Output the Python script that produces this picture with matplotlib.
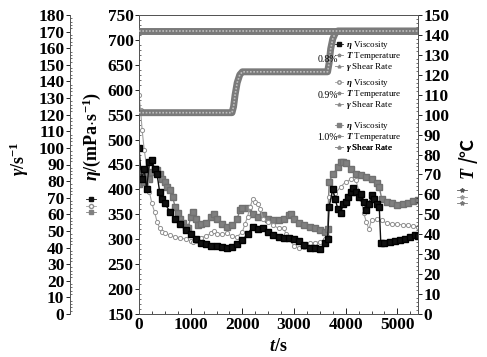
import matplotlib
matplotlib.use("Agg")
import matplotlib.pyplot as plt
from matplotlib.lines import Line2D
from matplotlib.ticker import MultipleLocator

plt.rcParams['font.family'] = ['Liberation Serif', 'DejaVu Serif']
plt.rcParams['mathtext.fontset'] = 'custom'
plt.rcParams['mathtext.rm'] = 'Liberation Serif:bold'
plt.rcParams['mathtext.it'] = 'Liberation Serif:italic:bold'
plt.rcParams['mathtext.bf'] = 'Liberation Serif:bold'

# ---------------- data ----------------
t_08 = [0, 50, 100, 150, 200, 250, 300, 350, 400, 450, 500, 600, 700, 800, 900, 1000,
        1100, 1200, 1300, 1400, 1500, 1600, 1700, 1800, 1900, 2000, 2100, 2200, 2300,
        2400, 2500, 2600, 2700, 2800, 2900, 3000, 3100, 3200, 3300, 3400, 3500, 3600,
        3650, 3680, 3750, 3800, 3850, 3900, 3950, 4000, 4050, 4100, 4150, 4200, 4250,
        4300, 4350, 4400, 4450, 4500, 4550, 4600, 4650, 4680, 4750, 4850, 4950, 5050,
        5150, 5250, 5350, 5400]
eta_08 = [483, 420, 440, 400, 455, 460, 440, 430, 395, 380, 372, 355, 340, 330, 318, 310,
          300, 292, 290, 287, 286, 284, 283, 285, 290, 298, 310, 325, 320,
          322, 315, 308, 305, 303, 302, 300, 296, 288, 283, 282, 280, 292,
          300, 365, 400, 380, 360, 352, 370, 375, 385, 395, 403, 395, 385,
          390, 375, 359, 370, 389, 380, 370, 365, 292, 293, 295, 296, 298,
          300, 305, 308, 307]

t_09 = [0, 30, 60, 100, 150, 200, 250, 300, 350, 400, 450, 500, 600, 700, 800, 900,
        1000, 1050, 1100, 1200, 1300, 1400, 1450, 1500, 1600, 1700, 1800, 1900, 2000,
        2050, 2100, 2150, 2200, 2250, 2300, 2350, 2400, 2500, 2600, 2700, 2800, 2850,
        2900, 3000, 3100, 3200, 3300, 3400, 3500, 3600, 3650, 3680, 3750, 3800, 3900,
        4000, 4100, 4200, 4300, 4350, 4400, 4450, 4500, 4600, 4700, 4800, 4900, 5000,
        5100, 5200, 5300, 5400]
eta_09 = [590, 560, 520, 480, 445, 395, 372, 355, 335, 322, 315, 312, 308, 305, 303, 300,
          297, 295, 297, 303, 307, 312, 316, 310, 310, 312, 306, 305, 315,
          330, 345, 365, 380, 375, 370, 360, 340, 335, 328, 322, 322, 310,
          300, 287, 282, 285, 292, 293, 295, 300, 305, 385, 390, 392, 405,
          415, 420, 418, 380, 352, 335, 320, 339, 340, 338, 332, 331, 330,
          329, 328, 326, 325]

t_10 = [0, 50, 100, 150, 200, 250, 300, 350, 400, 450, 500, 550, 600, 650, 700, 750,
        800, 850, 900, 950, 1000, 1050, 1100, 1150, 1200, 1300, 1400, 1450, 1500, 1600,
        1700, 1800, 1900, 1950, 2000, 2100, 2200, 2300, 2400, 2500, 2600, 2700, 2800,
        2900, 2950, 3000, 3100, 3200, 3300, 3400, 3500, 3600, 3650, 3680, 3750, 3850,
        3900, 3950, 4000, 4100, 4200, 4300, 4400, 4500, 4600, 4650, 4700, 4800, 4900,
        5000, 5100, 5200, 5300, 5400]
eta_10 = [410, 425, 415, 430, 420, 435, 440, 438, 430, 420, 415, 405, 398, 385, 365, 352,
          340, 333, 325, 322, 345, 355, 340, 328, 330, 333, 345, 350, 340, 330,
          325, 328, 340, 358, 362, 362, 350, 345, 348, 340, 338, 338, 340,
          349, 350, 340, 332, 328, 325, 322, 318, 315, 320, 415, 430, 445,
          456, 455, 453, 440, 430, 428, 425, 420, 412, 405, 380, 375, 372,
          369, 370, 372, 376, 378]

t_temp = [0, 1800, 1830, 1860, 1900, 1950, 2000, 3650, 3680, 3710, 3750, 3800, 3850, 5400]
temp = [101, 101, 104, 110, 116, 120, 121.5, 121.5, 126, 133, 138, 141, 142, 142]

t_shear = [0, 5400]
shear = [170.5, 170.5]

groups = ['0.8%', '0.9%', '1.0%']
row_labels = [r'$\eta$ Viscosity', r'$T$ Temperature', r'$\gamma$ Shear Rate']

# ---------------- figure ----------------
W, H = 487, 357
fig = plt.figure(figsize=(W / 100, H / 100), dpi=100)
L, R, B, T = 139, 418, 314, 15
ax = fig.add_axes([L / W, 1 - B / H, (R - L) / W, (B - T) / H])
ax.set_xlim(0, 5400)
ax.set_ylim(150, 750)
axT = ax.twinx()
axT.set_ylim(0, 150)
axG = ax.twinx()
axG.set_ylim(0, 180)
axG.spines['left'].set_position(('outward', (L - 70) * 0.72))
axG.spines['left'].set_visible(True)
axG.spines['right'].set_visible(False)
axG.yaxis.set_ticks_position('left')
axG.yaxis.set_label_position('left')
axG.patch.set_visible(False)

# data
axG.plot(t_shear, shear, color='#7a7a7a', lw=5, solid_capstyle='butt', zorder=2)
axG.plot(t_shear, shear, color='#bdbdbd', lw=1.2, ls=(0, (1, 1)), zorder=3)
axT.plot(t_temp, temp, color='#7a7a7a', lw=5, zorder=2)
axT.plot(t_temp, temp, color='#bdbdbd', lw=1.2, ls=(0, (1, 1)), zorder=3)

ax.plot(t_10, eta_10, color='#808080', lw=1.0, marker='s', ms=4.5, mec='#707070',
        mfc='#808080', zorder=3)
ax.plot(t_09, eta_09, color='#a0a0a0', lw=0.8, marker='o', ms=3, mfc='white',
        mec='#909090', mew=0.7, zorder=4)
ax.plot(t_08, eta_08, color='#111111', lw=1.0, marker='s', ms=5, mec='#000000',
        mfc='#111111', zorder=5)

ax.xaxis.set_major_locator(MultipleLocator(1000))
ax.xaxis.set_minor_locator(MultipleLocator(250))
ax.yaxis.set_major_locator(MultipleLocator(50))
ax.yaxis.set_minor_locator(MultipleLocator(10))
axG.yaxis.set_major_locator(MultipleLocator(10))
axG.yaxis.set_minor_locator(MultipleLocator(2))
axT.yaxis.set_major_locator(MultipleLocator(10))
axT.yaxis.set_minor_locator(MultipleLocator(2))

ax.tick_params(axis='x', direction='in', length=4, width=0.6, labelsize=12.5, pad=2)
ax.tick_params(axis='x', which='minor', direction='in', length=2, width=0.5)
ax.tick_params(axis='y', direction='out', length=3, width=0.6, labelsize=12.5, pad=1)
ax.tick_params(axis='y', which='minor', direction='in', length=1.5, width=0.4)
axG.tick_params(axis='y', direction='out', length=3, width=0.6, labelsize=12.5, pad=1)
axG.tick_params(axis='y', which='minor', direction='in', length=1.5, width=0.4)
axT.tick_params(axis='y', direction='out', length=3, width=0.6, labelsize=12.5, pad=1)
axT.tick_params(axis='y', which='minor', direction='in', length=1.5, width=0.4)
for a in (ax, axG, axT):
    for lab in a.get_xticklabels() + a.get_yticklabels():
        lab.set_fontweight('bold')
    for s in a.spines.values():
        s.set_linewidth(0.7)
        s.set_color('#555555')

ax.set_xlabel(r'$t$/s', fontsize=13, fontweight='bold', labelpad=4)
ax.set_ylabel(r'$\eta$/(mPa$\cdot$s$^{-1}$)', fontsize=13, fontweight='bold')
ax.yaxis.set_label_coords((103 - L) / (R - L), (B - 136) / (B - T))
axG.set_ylabel(r'$\gamma$/s$^{-1}$', fontsize=13, fontweight='bold')
axG.yaxis.set_label_coords((31 - L) / (R - L), (B - 159) / (B - T))

# T/℃ label (two pieces so the ℃ sign can fall back to a font that has it)
fig.text(468 / W, 1 - 172 / H, 'T', rotation=90, ha='center', va='center',
         fontsize=13, fontweight='bold', fontstyle='italic')
fig.text(468 / W, 1 - 150 / H, '/℃', rotation=90, ha='center', va='center',
         fontsize=13, fontweight='bold', family=['Noto Sans CJK SC', 'DejaVu Sans'])

# group legends (one row per legend for exact placement)
eta_styles = [dict(marker='s', color='#111111', mfc='#111111'),
              dict(marker='o', color='#a0a0a0', mfc='white', mec='#909090'),
              dict(marker='s', color='#808080', mfc='#808080')]
row_ys = [[45, 56, 67], [83, 94, 105], [126, 137, 148]]
pct_ys = [60, 95, 138]
for g, st, ys, py in zip(groups, eta_styles, row_ys, pct_ys):
    hs = [Line2D([], [], lw=0.6, ms=2.5, **st),
          Line2D([], [], lw=0.6, color='#888888', marker='*', ms=2.5),
          Line2D([], [], lw=0.6, color='#888888', marker='^', ms=2)]
    for h, lab, y in zip(hs, row_labels, ys):
        leg = ax.legend([h], [lab], loc='center left', frameon=False, fontsize=6.5,
                        bbox_to_anchor=(335 / W, 1 - y / H),
                        bbox_transform=fig.transFigure, handlelength=0.9,
                        handletextpad=0.35, borderpad=0, borderaxespad=0)
        ax.add_artist(leg)
    fig.text(338 / W, 1 - py / H, g, ha='right', va='center', fontsize=7)

# small marker keys beside axis titles
hk = [Line2D([], [], lw=0.6, ms=3, **st) for st in eta_styles]
lk = fig.legend(hk, ['', '', ''], loc='center', frameon=False,
                bbox_to_anchor=(91 / W, 1 - 206 / H), handlelength=1.3,
                labelspacing=0.05, handletextpad=0, borderpad=0, fontsize=5)
tk_styles = [dict(marker='*', color='#555555'), dict(marker='*', color='#999999', mfc='white'),
             dict(marker='*', color='#777777')]
hk2 = [Line2D([], [], lw=0.6, ms=3, **st) for st in tk_styles]
fig.legend(hk2, ['', '', ''], loc='center', frameon=False,
           bbox_to_anchor=(462 / W, 1 - 197 / H), handlelength=1.3,
           labelspacing=0.05, handletextpad=0, borderpad=0, fontsize=5)

fig.savefig('out.png', dpi=100)
